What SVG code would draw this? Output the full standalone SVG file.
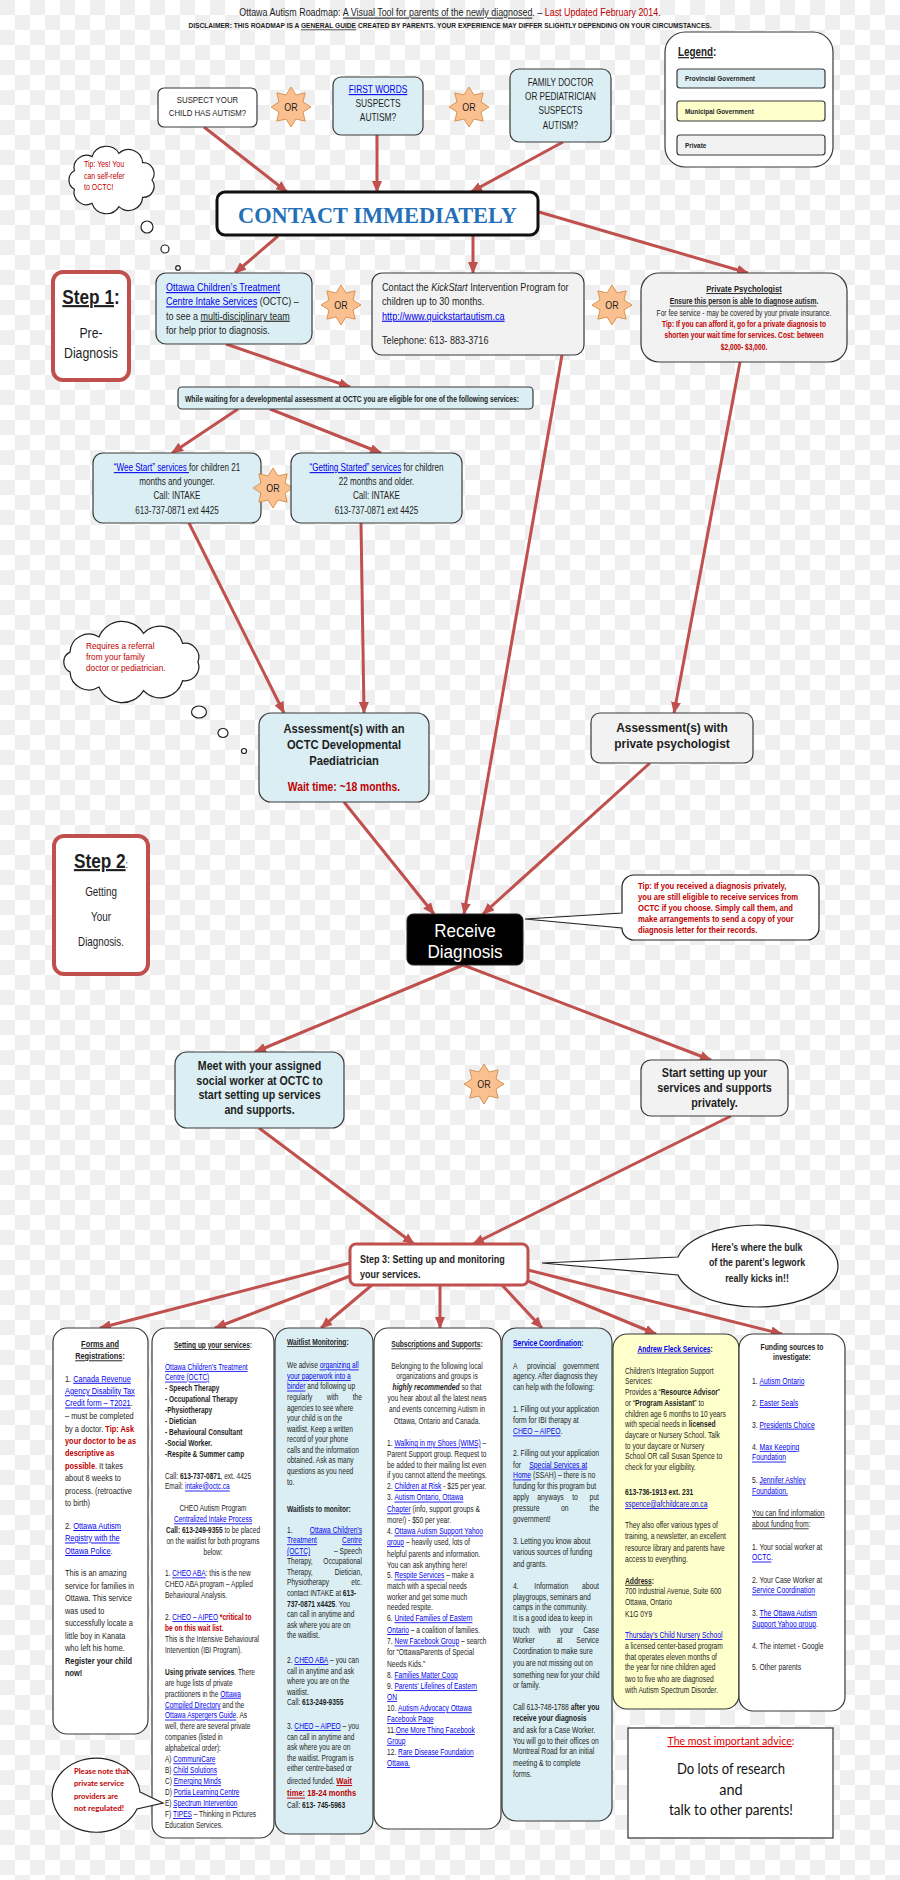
<svg xmlns="http://www.w3.org/2000/svg" width="900" height="1880" viewBox="0 0 900 1880">
<defs>
<pattern id="chk" width="30" height="30" patternUnits="userSpaceOnUse"><rect width="30" height="30" fill="#ffffff"/><rect width="15" height="15" fill="#efefef"/><rect x="15" y="15" width="15" height="15" fill="#efefef"/></pattern>
<marker id="ah" markerUnits="userSpaceOnUse" markerWidth="12" markerHeight="10" refX="11" refY="5" orient="auto"><path d="M0,0 L12,5 L0,10 z" fill="#c0504d"/></marker>
<polygon id="star" points="20,0 12.01,4.97 14.14,14.14 4.97,12.01 0,20 -4.97,12.01 -14.14,14.14 -12.01,4.97 -20,0 -12.01,-4.97 -14.14,-14.14 -4.97,-12.01 0,-20 4.97,-12.01 14.14,-14.14 12.01,-4.97"/>
</defs>
<style>
.t{font-family:"Liberation Sans",Arial,sans-serif;fill:#1e1e1e}
.b{font-weight:bold}
.it{font-style:italic}
.u{text-decoration:underline}
.lk{fill:#0000ee;text-decoration:underline}
.r{fill:#c00000}
.m{text-anchor:middle}
.e{text-anchor:end}
.bx{stroke:#3a3a3a;stroke-width:1.2}
.blue{fill:#daeef3}
.grey{fill:#f2f2f2}
.wh{fill:#ffffff}
.yel{fill:#ffffcc}
.step{fill:#ffffff;stroke:#c0504d;stroke-width:4}
.star{fill:#fac090;stroke:#d9954f;stroke-width:1}
.conn{fill:none;stroke:#c0504d;stroke-width:3;marker-end:url(#ah)}
.cl{fill:#ffffff;stroke:#222;stroke-width:1.2}
</style>
<rect width="900" height="1880" fill="url(#chk)"/>

<g id="title" class="t">
<g transform="translate(450 0) scale(0.85 1)"><text x="0" y="16.5" text-anchor="middle" font-size="10.5">Ottawa Autism Roadmap: <tspan class="u">A Visual Tool for parents of the newly diagnosed</tspan>. – <tspan class="r">Last Updated February 2014</tspan>.</text></g>
<g transform="translate(450 0) scale(0.874 1)"><text x="0" y="28.4" text-anchor="middle" font-size="7.6" font-weight="bold">DISCLAIMER: THIS ROADMAP IS A <tspan class="u">GENERAL GUIDE</tspan> CREATED BY PARENTS. YOUR EXPERIENCE MAY DIFFER SLIGHTLY DEPENDING ON YOUR CIRCUMSTANCES.</text></g>
</g>

<g id="legend">
<rect x="665" y="32" width="168" height="135" rx="20" class="bx wh"/>
<g class="t b" transform="translate(678 0) scale(0.82 1)"><text x="0" y="56" font-size="12"><tspan class="u">Legend</tspan>:</text></g>
<rect x="677" y="69" width="148" height="19" rx="3" class="bx blue"/>
<rect x="677" y="101" width="148" height="20" rx="3" class="bx yel"/>
<rect x="677" y="135" width="148" height="20" rx="3" class="bx grey"/>
<g class="t b" font-size="8" transform="translate(685 0) scale(0.8 1)">
<text x="0" y="81.5">Provincial Government</text>
<text x="0" y="114">Municipal Government</text>
<text x="0" y="148">Private</text>
</g>
</g>

<g id="connectors">
<line x1="204" y1="127" x2="287" y2="192" class="conn"/>
<line x1="377" y1="135" x2="377" y2="192" class="conn"/>
<line x1="563" y1="142" x2="471" y2="192" class="conn"/>
<line x1="278" y1="236" x2="235" y2="273" class="conn"/>
<line x1="473" y1="236" x2="473" y2="273" class="conn"/>
<line x1="539" y1="212" x2="748" y2="273" class="conn"/>
<line x1="226" y1="344" x2="350" y2="387" class="conn"/>
<line x1="238" y1="409" x2="172" y2="453" class="conn"/>
<line x1="270" y1="409" x2="381" y2="453" class="conn"/>
<line x1="189" y1="523" x2="284" y2="713" class="conn"/>
<line x1="361" y1="523" x2="364" y2="713" class="conn"/>
<line x1="562" y1="355" x2="464" y2="914" class="conn"/>
<line x1="740" y1="362" x2="674" y2="713" class="conn"/>
<line x1="344" y1="802" x2="434" y2="914" class="conn"/>
<line x1="650" y1="763" x2="483" y2="914" class="conn"/>
<line x1="463" y1="965" x2="255" y2="1052" class="conn"/>
<line x1="463" y1="965" x2="711" y2="1060" class="conn"/>
<line x1="259" y1="1128" x2="414" y2="1244" class="conn"/>
<line x1="731" y1="1116" x2="473" y2="1244" class="conn"/>
<line x1="350" y1="1263" x2="100" y2="1328" class="conn"/>
<line x1="350" y1="1276" x2="215" y2="1328" class="conn"/>
<line x1="372" y1="1285" x2="321" y2="1328" class="conn"/>
<line x1="440" y1="1285" x2="440" y2="1328" class="conn"/>
<line x1="502" y1="1285" x2="542" y2="1328" class="conn"/>
<line x1="528" y1="1281" x2="656" y2="1334" class="conn"/>
<line x1="528" y1="1270" x2="782" y2="1334" class="conn"/>
</g>

<g id="n-suspect">
<rect x="158" y="88" width="99" height="39" rx="6" class="bx wh"/>
<g class="t" font-size="9.8" text-anchor="middle" transform="translate(207.5 0) scale(0.8 1)">
<text x="0" y="103.5">SUSPECT YOUR</text>
<text x="0" y="116.5">CHILD HAS AUTISM?</text>
</g>
</g>
<g id="or1" transform="translate(291 107)"><use href="#star" class="star"/><text x="0" y="3.6" font-size="10.5" class="t m" transform="scale(0.85 1)">OR</text></g>
<g id="n-firstwords">
<rect x="333" y="77" width="90" height="58" rx="8" class="bx blue"/>
<g class="t" font-size="10.5" text-anchor="middle" transform="translate(378 0) scale(0.8 1)">
<text x="0" y="93" class="lk">FIRST WORDS</text>
<text x="0" y="107.5">SUSPECTS</text>
<text x="0" y="121.5">AUTISM?</text>
</g>
</g>
<g id="or2" transform="translate(469 107)"><use href="#star" class="star"/><text x="0" y="3.6" font-size="10.5" class="t m" transform="scale(0.85 1)">OR</text></g>
<g id="n-familydoctor">
<rect x="510" y="69" width="101" height="73" rx="9" class="bx blue"/>
<g class="t" font-size="10.2" text-anchor="middle" transform="translate(560.5 0) scale(0.8 1)">
<text x="0" y="86.5">FAMILY DOCTOR</text>
<text x="0" y="100.5">OR PEDIATRICIAN</text>
<text x="0" y="114.5">SUSPECTS</text>
<text x="0" y="129">AUTISM?</text>
</g>
</g>

<g id="tip-selfrefer">
<path d="M152,180 A11,11 0 0 1 142.6,197.4 A14,14 0 0 1 119,206.6 A15,15 0 0 1 92,203.4 A12.5,12.5 0 0 1 74.4,189.2 A10.5,10.5 0 0 1 74.4,170.8 A12.5,12.5 0 0 1 92,156.6 A15,15 0 0 1 119,153.4 A14,14 0 0 1 142.6,162.6 A11,11 0 0 1 152,180 Z" class="cl"/>
<circle cx="147" cy="227" r="6" class="cl"/>
<circle cx="165" cy="249" r="4" class="cl"/>
<circle cx="178" cy="268" r="2.3" class="cl"/>
<g class="t r" font-size="8.5" transform="translate(84 0) scale(0.82 1)">
<text x="0" y="167">Tip: Yes! You</text>
<text x="0" y="178.7">can self-refer</text>
<text x="0" y="190.3">to OCTC!</text>
</g>
</g>

<g id="n-contact">
<rect x="217" y="192" width="321" height="43" rx="8" fill="#ffffff" stroke="#111" stroke-width="3"/>
<text x="377.5" y="223" text-anchor="middle" font-family="'Liberation Serif',serif" font-weight="bold" font-size="23" fill="#2470b8" textLength="279" lengthAdjust="spacingAndGlyphs">CONTACT IMMEDIATELY</text>
</g>

<g id="step1">
<rect x="53" y="272" width="76" height="108" rx="10" class="step"/>
<g class="t" text-anchor="middle" transform="translate(91 0) scale(0.82 1)">
<text x="0" y="304" font-size="21" class="b"><tspan class="u">Step 1</tspan>:</text>
<text x="0" y="338" font-size="15">Pre-</text>
<text x="0" y="358" font-size="15">Diagnosis</text>
</g>
</g>

<g id="n-octc-intake">
<rect x="156" y="273" width="156" height="71" rx="10" class="bx blue"/>
<g class="t" font-size="11" transform="translate(166 0) scale(0.82 1)">
<text x="0" y="291" class="lk">Ottawa Children’s Treatment</text>
<text x="0" y="305.3"><tspan class="lk">Centre  Intake Services</tspan> (OCTC) –</text>
<text x="0" y="319.6">to see a <tspan class="u">multi-disciplinary team</tspan></text>
<text x="0" y="333.9">for help prior to diagnosis.</text>
</g>
</g>
<g id="or3" transform="translate(341 305)"><use href="#star" class="star"/><text x="0" y="3.6" font-size="10.5" class="t m" transform="scale(0.85 1)">OR</text></g>
<g id="n-kickstart">
<rect x="372" y="273" width="212" height="82" rx="10" class="bx grey"/>
<g class="t" font-size="11" transform="translate(382 0) scale(0.83 1)">
<text x="0" y="291">Contact the <tspan class="it">KickStart</tspan> Intervention Program for</text>
<text x="0" y="305.3">children up to 30 months.</text>
<text x="0" y="319.6" class="lk">http://www.quickstartautism.ca</text>
<text x="0" y="344.5">Telephone: 613- 883-3716</text>
</g>
</g>
<g id="or4" transform="translate(612 305)"><use href="#star" class="star"/><text x="0" y="3.6" font-size="10.5" class="t m" transform="scale(0.85 1)">OR</text></g>
<g id="n-private-psych">
<rect x="641" y="273" width="206" height="89" rx="18" class="bx grey"/>
<g class="t" text-anchor="middle" transform="translate(744 0) scale(0.81 1)">
<text x="0" y="292" font-size="9.5" class="b u">Private Psychologist</text>
<text x="0" y="304.5" font-size="8.3" class="b"><tspan class="u">Ensure this person is able to diagnose autism</tspan>.</text>
<text x="0" y="315.8" font-size="8.2">For fee service - may be covered by your private insurance.</text>
<text x="0" y="326.8" font-size="8.2" class="b r">Tip: If you can afford it, go for a private diagnosis to</text>
<text x="0" y="338.3" font-size="8.2" class="b r">shorten your wait time for services. Cost: between</text>
<text x="0" y="349.6" font-size="8.2" class="b r">$2,000- $3,000.</text>
</g>
</g>

<g id="n-while-waiting">
<rect x="178" y="387" width="355" height="22" rx="4" class="bx blue"/>
<text x="185" y="401.5" font-size="9" class="t b" textLength="334" lengthAdjust="spacingAndGlyphs">While waiting for a developmental assessment at OCTC you are eligible for one of the following services:</text>
</g>

<g id="n-weestart">
<rect x="93" y="453" width="168" height="70" rx="10" class="bx blue"/>
<g class="t" font-size="10.5" text-anchor="middle" transform="translate(177 0) scale(0.77 1)">
<text x="0" y="471"><tspan class="lk">“Wee Start” services </tspan> for children 21</text>
<text x="0" y="485.2">months and younger.</text>
<text x="0" y="499.4">Call: INTAKE</text>
<text x="0" y="513.6">613-737-0871 ext 4425</text>
</g>
</g>
<g id="or5" transform="translate(273 488)"><use href="#star" class="star"/><text x="0" y="3.6" font-size="10.5" class="t m" transform="scale(0.85 1)">OR</text></g>
<g id="n-gettingstarted">
<rect x="291" y="453" width="171" height="70" rx="10" class="bx blue"/>
<g class="t" font-size="10.5" text-anchor="middle" transform="translate(376.5 0) scale(0.77 1)">
<text x="0" y="471"><tspan class="lk">“Getting Started” services</tspan> for children</text>
<text x="0" y="485.2">22 months and older.</text>
<text x="0" y="499.4">Call: INTAKE</text>
<text x="0" y="513.6">613-737-0871 ext 4425</text>
</g>
</g>

<g id="tip-referral">
<path d="M198,662 A14,14 0 0 1 182.6,680.6 A23,23 0 0 1 143.5,690.6 A25,25 0 0 1 99,687.1 A19,19 0 0 1 70,671.9 A11,11 0 0 1 70,652.1 A19,19 0 0 1 99,636.9 A25,25 0 0 1 143.5,633.4 A23,23 0 0 1 182.6,643.4 A14,14 0 0 1 198,662 Z" class="cl"/>
<ellipse cx="199" cy="712" rx="7.5" ry="6" class="cl"/>
<ellipse cx="223" cy="733" rx="5" ry="4.5" class="cl"/>
<circle cx="244" cy="751" r="2.5" class="cl"/>
<g class="t r" font-size="9.2" transform="translate(86 0) scale(0.9 1)">
<text x="0" y="649.5">Requires a referral</text>
<text x="0" y="660.3">from your family</text>
<text x="0" y="671.1">doctor or pediatrician.</text>
</g>
</g>

<g id="n-assess-octc">
<rect x="259" y="713" width="170" height="89" rx="12" class="bx blue"/>
<g class="t b" text-anchor="middle" transform="translate(344 0) scale(0.86 1)">
<text x="0" y="733.5" font-size="13">Assessment(s) with an</text>
<text x="0" y="749.5" font-size="13">OCTC Developmental</text>
<text x="0" y="765.5" font-size="13">Paediatrician</text>
<text x="0" y="791.5" font-size="12" class="r">Wait time: ~18 months.</text>
</g>
</g>
<g id="n-assess-private">
<rect x="591" y="713" width="162" height="50" rx="9" class="bx grey"/>
<g class="t b" font-size="13.5" text-anchor="middle" transform="translate(672 0) scale(0.88 1)">
<text x="0" y="732">Assessment(s) with</text>
<text x="0" y="748">private psychologist</text>
</g>
</g>

<g id="step2">
<rect x="54" y="836" width="94" height="138" rx="10" class="step"/>
<g class="t" text-anchor="middle" transform="translate(101 0) scale(0.82 1)">
<text x="0" y="868" font-size="21" class="b"><tspan class="u">Step 2</tspan><tspan font-size="11" font-weight="normal">:</tspan></text>
<text x="0" y="896" font-size="12">Getting</text>
<text x="0" y="921" font-size="12">Your</text>
<text x="0" y="946" font-size="12">Diagnosis.</text>
</g>
</g>

<g id="n-receive">
<rect x="407" y="914" width="116" height="51" rx="6" fill="#000000" stroke="#222" stroke-width="1"/>
<g font-family="'Liberation Sans',Arial,sans-serif" font-size="19" fill="#ffffff" text-anchor="middle" transform="translate(465 0) scale(0.9 1)">
<text x="0" y="937">Receive</text>
<text x="0" y="958.5">Diagnosis</text>
</g>
</g>

<g id="tip-private-dx">
<path d="M634,875 H807 A12,12 0 0 1 819,887 V928 A12,12 0 0 1 807,940 H634 A12,12 0 0 1 622,928 L525,919 L622,913 V887 A12,12 0 0 1 634,875 Z" class="cl"/>
<g class="t r b" font-size="9.2" transform="translate(638 0) scale(0.83 1)">
<text x="0" y="889.5">Tip: If you received a diagnosis privately,</text>
<text x="0" y="900.3">you are still eligible to receive services from</text>
<text x="0" y="911.1">OCTC if you choose. Simply call them, and</text>
<text x="0" y="921.9">make arrangements to send a copy of your</text>
<text x="0" y="932.7">diagnosis letter for their records.</text>
</g>
</g>

<g id="n-meet">
<rect x="175" y="1052" width="169" height="76" rx="12" class="bx blue"/>
<g class="t b" font-size="12.5" text-anchor="middle" transform="translate(259.5 0) scale(0.85 1)">
<text x="0" y="1070">Meet with your assigned</text>
<text x="0" y="1084.7">social worker at OCTC to</text>
<text x="0" y="1099.4">start setting up services</text>
<text x="0" y="1114.5">and supports.</text>
</g>
</g>
<g id="or6" transform="translate(484 1084)"><use href="#star" class="star"/><text x="0" y="3.6" font-size="10.5" class="t m" transform="scale(0.85 1)">OR</text></g>
<g id="n-start-private">
<rect x="641" y="1060" width="147" height="56" rx="10" class="bx grey"/>
<g class="t b" font-size="12.5" text-anchor="middle" transform="translate(714.5 0) scale(0.865 1)">
<text x="0" y="1077.5">Start setting up your</text>
<text x="0" y="1092.5">services and supports</text>
<text x="0" y="1107.5">privately.</text>
</g>
</g>

<g id="step3">
<rect x="350" y="1244" width="178" height="41" rx="6" fill="#ffffff" stroke="#c0504d" stroke-width="3"/>
<g class="t b" font-size="11" transform="translate(360 0) scale(0.82 1)">
<text x="0" y="1263">Step 3: Setting up and monitoring</text>
<text x="0" y="1278">your services.</text>
</g>
</g>

<g id="tip-legwork">
<path d="M678,1257 L542,1263 L678,1275 A81,41 0 1 0 678,1257 Z" class="cl"/>
<g class="t b" font-size="10.5" text-anchor="middle" transform="translate(757 0) scale(0.84 1)">
<text x="0" y="1251">Here’s where the bulk</text>
<text x="0" y="1266.5">of the parent’s legwork</text>
<text x="0" y="1282">really kicks in!!</text>
</g>
</g>

<g id="col-forms">
<rect x="53" y="1328" width="95" height="406" rx="14" class="bx wh"/>
<g class="t" font-size="9.5" transform="translate(65 0) scale(0.78 1)">
<text x="44.9" y="1346.7" class="m b"><tspan class="u">Forms and</tspan></text>
<text x="44.9" y="1359.2" class="m b"><tspan class="u">Registrations</tspan>:</text>
<text x="0" y="1381.7">1. <tspan class="lk">Canada Revenue</tspan></text>
<text x="0" y="1394.2" class="lk">Agency Disability Tax</text>
<text x="0" y="1406.4"><tspan class="lk">Credit form – T2021</tspan>.</text>
<text x="0" y="1419.2">– must be completed</text>
<text x="0" y="1431.7">by a doctor. <tspan class="r b">Tip: Ask</tspan></text>
<text x="0" y="1444.2" class="r b">your doctor to be as</text>
<text x="0" y="1456.4" class="r b">descriptive as</text>
<text x="0" y="1469.2"><tspan class="r b">possible</tspan>. It takes</text>
<text x="0" y="1481.4">about 8 weeks to</text>
<text x="0" y="1493.9">process. (retroactive</text>
<text x="0" y="1506.4">to birth)</text>
<text x="0" y="1528.9">2. <tspan class="lk">Ottawa Autism</tspan></text>
<text x="0" y="1541.4" class="lk">Registry with the</text>
<text x="0" y="1553.9"><tspan class="lk">Ottawa Police</tspan>.</text>
<text x="0" y="1576.4">This is an amazing</text>
<text x="0" y="1588.9">service for families in</text>
<text x="0" y="1601.4">Ottawa. This service</text>
<text x="0" y="1613.9">was used to</text>
<text x="0" y="1626.4">successfully locate a</text>
<text x="0" y="1638.9">little boy in Kanata</text>
<text x="0" y="1651.4">who left his home.</text>
<text x="0" y="1663.9" class="b">Register your child</text>
<text x="0" y="1676.4" class="b">now!</text>
</g>
</g>

<g id="col-setting-up">
<rect x="152" y="1328" width="122" height="510" rx="14" class="bx wh"/>
<g class="t" font-size="8.5" transform="translate(165 1348) scale(0.77 0.988) translate(0 -1348)">
<text x="62.3" y="1348" class="m b"><tspan class="u">Setting up your services</tspan>:</text>
<text x="0" y="1370.1" class="lk">Ottawa Children’s Treatment</text>
<text x="0" y="1380.9" class="lk">Centre (OCTC)</text>
<text x="0" y="1391.9" class="b">- Speech Therapy</text>
<text x="0" y="1403" class="b">- Occupational Therapy</text>
<text x="0" y="1414" class="b">-Physiotherapy</text>
<text x="0" y="1425.1" class="b">- Dietician</text>
<text x="0" y="1436.2" class="b">- Behavioural Consultant</text>
<text x="0" y="1447.3" class="b">-Social Worker.</text>
<text x="0" y="1458.4" class="b">-Respite &amp; Summer camp</text>
<text x="0" y="1480.1">Call: <tspan class="b">613-737-0871</tspan>, ext. 4425</text>
<text x="0" y="1491.2">Email: <tspan class="lk">intake@octc.ca</tspan></text>
<text x="62.3" y="1513.4" class="m">CHEO Autism Program</text>
<text x="62.3" y="1524.4" class="m lk">Centralized Intake Process</text>
<text x="62.3" y="1535.5" class="m"><tspan class="b">Call: 613-249-9355</tspan> to be placed</text>
<text x="62.3" y="1546.6" class="m">on the waitlist for both programs</text>
<text x="62.3" y="1557.6" class="m">below:</text>
<text x="0" y="1579.1">1. <tspan class="lk">CHEO ABA</tspan>: this is the new</text>
<text x="0" y="1590.1">CHEO ABA program – Applied</text>
<text x="0" y="1601.2">Behavioural Analysis.</text>
<text x="0" y="1623.4">2. <tspan class="lk">CHEO – AIPEO</tspan> <tspan class="r b">*critical to</tspan></text>
<text x="0" y="1634.4" class="r b">be on this wait list.</text>
<text x="0" y="1645.5">This is the Intensive Behavioural</text>
<text x="0" y="1656.6">Intervention (IBI Program).</text>
<text x="0" y="1678.7"><tspan class="b">Using private services</tspan>. There</text>
<text x="0" y="1689.8">are huge lists of private</text>
<text x="0" y="1700.9">practitioners in the <tspan class="lk">Ottawa</tspan></text>
<text x="0" y="1711.9"><tspan class="lk">Compiled Directory</tspan> and the</text>
<text x="0" y="1723"><tspan class="lk">Ottawa Aspergers Guide</tspan>. As</text>
<text x="0" y="1734.1">well, there are several private</text>
<text x="0" y="1745.1">companies (listed in</text>
<text x="0" y="1756.2">alphabetical order):</text>
<text x="0" y="1767.3">A) <tspan class="lk">CommuniCare</tspan></text>
<text x="0" y="1778.4">B) <tspan class="lk">Child Solutions</tspan></text>
<text x="0" y="1789.4">C) <tspan class="lk">Emerging Minds</tspan></text>
<text x="0" y="1800.5">D) <tspan class="lk">Portia Learning Centre</tspan></text>
<text x="0" y="1811.6">E) <tspan class="lk">Spectrum Intervention</tspan></text>
<text x="0" y="1822.7">F) <tspan class="lk">TIPES</tspan> – Thinking in Pictures</text>
<text x="0" y="1833.7">Education Services.</text>
</g>
</g>

<g id="col-waitlist">
<rect x="275" y="1328" width="98" height="506" rx="14" class="bx blue"/>
<g class="t" font-size="8.3" transform="translate(287 0) scale(0.8 1)">
<text x="0" y="1345.1" class="b"><tspan class="u">Waitlist Monitoring</tspan>:</text>
<text x="0" y="1368.4">We advise <tspan class="lk">organizing all</tspan></text>
<text x="0" y="1379" class="lk">your paperwork into a</text>
<text x="0" y="1389.5"><tspan class="lk">binder</tspan> and following up</text>
<text x="0" y="1400.1">regularly</text><text x="49.6" y="1400.1">with</text><text x="93.75" y="1400.1" class="e">the</text>
<text x="0" y="1410.6">agencies to see where</text>
<text x="0" y="1421.2">your child is on the</text>
<text x="0" y="1431.8">waitlist. Keep a written</text>
<text x="0" y="1442.3">record of your phone</text>
<text x="0" y="1452.9">calls and the information</text>
<text x="0" y="1463.5">obtained. Ask as many</text>
<text x="0" y="1474">questions as you need</text>
<text x="0" y="1484.6">to.</text>
<text x="0" y="1511.6" class="b">Waitlists to monitor:</text>
<text x="0" y="1532.6">1.</text><text x="93.75" y="1532.6" class="e lk">Ottawa Children’s</text>
<text x="0" y="1543.2" class="lk">Treatment</text><text x="93.75" y="1543.2" class="e lk">Centre</text>
<text x="0" y="1553.8" class="lk">(OCTC)</text><text x="93.75" y="1553.8" class="e">– Speech</text>
<text x="0" y="1564.3">Therapy,</text><text x="93.75" y="1564.3" class="e">Occupational</text>
<text x="0" y="1574.9">Therapy,</text><text x="93.75" y="1574.9" class="e">Dietician,</text>
<text x="0" y="1585.5">Physiotherapy</text><text x="93.75" y="1585.5" class="e">etc.</text>
<text x="0" y="1596">contact INTAKE at <tspan class="b">613-</tspan></text>
<text x="0" y="1606.6"><tspan class="b">737-0871  x4425</tspan>. You</text>
<text x="0" y="1617.2">can call in anytime and</text>
<text x="0" y="1627.7">ask where you are on</text>
<text x="0" y="1638.3">the waitlist.</text>
<text x="0" y="1663">2. <tspan class="lk">CHEO ABA</tspan> – you can</text>
<text x="0" y="1673.6">call in anytime and ask</text>
<text x="0" y="1684.2">where you are on the</text>
<text x="0" y="1694.8">waitlist.</text>
<text x="0" y="1705.4">Call: <tspan class="b">613-249-9355</tspan></text>
<text x="0" y="1729">3. <tspan class="lk">CHEO – AIPEO</tspan> – you</text>
<text x="0" y="1739.6">can call in anytime and</text>
<text x="0" y="1750.2">ask where you are on</text>
<text x="0" y="1760.8">the waitlist. Program is</text>
<text x="0" y="1771.4">either centre-based or</text>
<text x="0" y="1784">directed funded. <tspan class="r b u" font-size="9.5">Wait</tspan></text>
<text x="0" y="1796.5" class="r b" font-size="9.5"><tspan class="u">time:</tspan> 18-24 months</text>
<text x="0" y="1808">Call: <tspan class="b">613- 745-5963</tspan></text>
</g>
</g>

<g id="col-subscriptions">
<rect x="374" y="1328" width="127" height="501" rx="14" class="bx wh"/>
<g class="t" font-size="8.5" transform="translate(387 0) scale(0.785 1)">
<text x="63.7" y="1347.3" class="m b"><tspan class="u">Subscriptions and Supports</tspan>:</text>
<text x="63.7" y="1368.7" class="m">Belonging to the following local</text>
<text x="63.7" y="1379.4" class="m">organizations and groups is</text>
<text x="63.7" y="1390.1" class="m"><tspan class="b it">highly recommended</tspan> so that</text>
<text x="63.7" y="1400.9" class="m">you hear about all the latest news</text>
<text x="63.7" y="1411.6" class="m">and events concerning Autism in</text>
<text x="63.7" y="1423.7" class="m">Ottawa, Ontario and Canada.</text>
<text x="0" y="1446.2">1. <tspan class="lk">Walking in my Shoes (WIMS)</tspan> –</text>
<text x="0" y="1456.9">Parent Support group. Request to</text>
<text x="0" y="1467.6">be added to their mailing list even</text>
<text x="0" y="1478.4">if you cannot attend the meetings.</text>
<text x="0" y="1489.1">2. <tspan class="lk">Children at Risk</tspan> - $25 per year.</text>
<text x="0" y="1500.5">3. <tspan class="lk">Autism Ontario, Ottawa</tspan></text>
<text x="0" y="1512.3"><tspan class="lk">Chapter</tspan> (info, support groups &amp;</text>
<text x="0" y="1523">more!) - $50 per year.</text>
<text x="0" y="1534.4">4. <tspan class="lk">Ottawa Autism Support Yahoo</tspan></text>
<text x="0" y="1545.1"><tspan class="lk">group</tspan> – heavily used, lots of</text>
<text x="0" y="1556.9">helpful parents and information.</text>
<text x="0" y="1567.6">You can ask anything here!</text>
<text x="0" y="1578.4">5. <tspan class="lk">Respite Services</tspan> – make a</text>
<text x="0" y="1589.1">match with a special needs</text>
<text x="0" y="1599.8">worker and get some much</text>
<text x="0" y="1610.5">needed respite.</text>
<text x="0" y="1621.2">6. <tspan class="lk">United Families of Eastern</tspan></text>
<text x="0" y="1633"><tspan class="lk">Ontario</tspan> – a coalition of families.</text>
<text x="0" y="1644.4">7. <tspan class="lk">New Facebook Group</tspan> – search</text>
<text x="0" y="1655.1">for “OttawaParents of Special</text>
<text x="0" y="1666.6">Needs Kids.”</text>
<text x="0" y="1677.6">8. <tspan class="lk">Families Matter Coop</tspan></text>
<text x="0" y="1689.1">9. <tspan class="lk">Parents’ Lifelines of Eastern</tspan></text>
<text x="0" y="1699.8" class="lk">ON</text>
<text x="0" y="1711.2">10. <tspan class="lk">Autism Advocacy Ottawa</tspan></text>
<text x="0" y="1721.9" class="lk">Facebook Page</text>
<text x="0" y="1733">11.<tspan class="lk">One More Thing Facebook</tspan></text>
<text x="0" y="1743.7" class="lk">Group</text>
<text x="0" y="1755.1">12. <tspan class="lk">Rare Disease Foundation</tspan></text>
<text x="0" y="1765.9" class="lk">Ottawa.</text>
</g>
</g>

<g id="col-service-coordination">
<rect x="502" y="1328" width="110" height="493" rx="14" class="bx blue"/>
<g class="t" font-size="8.5" transform="translate(513 0) scale(0.8 1)">
<text x="0" y="1346.2" class="b"><tspan class="lk">Service Coordination</tspan>:</text>
<text x="0" y="1369.4">A</text><text x="17.5" y="1369.4">provincial</text><text x="107.5" y="1369.4" class="e">government</text>
<text x="0" y="1379.4">agency. After diagnosis they</text>
<text x="0" y="1390.1">can help with the following:</text>
<text x="0" y="1412.3">1. Filling out your application</text>
<text x="0" y="1423">form for IBI therapy at</text>
<text x="0" y="1434.4"><tspan class="lk">CHEO – AIPEO</tspan>.</text>
<text x="0" y="1455.9">2. Filling out your application</text>
<text x="0" y="1467.6">for</text><text x="20.4" y="1467.6" class="lk">Special Services at</text>
<text x="0" y="1478.4"><tspan class="lk">Home</tspan> (SSAH) – there is no</text>
<text x="0" y="1489.1">funding for this program but</text>
<text x="0" y="1499.8">apply</text><text x="30.4" y="1499.8">anyways</text><text x="74" y="1499.8">to</text><text x="107.5" y="1499.8" class="e">put</text>
<text x="0" y="1511.2">pressure</text><text x="60" y="1511.2">on</text><text x="107.5" y="1511.2" class="e">the</text>
<text x="0" y="1521.9">government!</text>
<text x="0" y="1544.4">3. Letting you know about</text>
<text x="0" y="1555.1">various sources of funding</text>
<text x="0" y="1566.9">and grants.</text>
<text x="0" y="1589.1">4.</text><text x="26.6" y="1589.1">Information</text><text x="107.5" y="1589.1" class="e">about</text>
<text x="0" y="1599.8">playgroups, seminars and</text>
<text x="0" y="1610.5">camps in the community.</text>
<text x="0" y="1621.2">It is a good idea to keep in</text>
<text x="0" y="1632.6">touch</text><text x="31.7" y="1632.6">with</text><text x="58.75" y="1632.6">your</text><text x="107.5" y="1632.6" class="e">Case</text>
<text x="0" y="1643.4">Worker</text><text x="54.6" y="1643.4">at</text><text x="107.5" y="1643.4" class="e">Service</text>
<text x="0" y="1654.4">Coordination to make sure</text>
<text x="0" y="1665.9">you are not missing out on</text>
<text x="0" y="1677.6">something new for your child</text>
<text x="0" y="1688.4">or family.</text>
<text x="0" y="1710.5">Call 613-748-1788 <tspan class="b">after you</tspan></text>
<text x="0" y="1721.2" class="b">receive your diagnosis</text>
<text x="0" y="1732.6">and ask for a Case Worker.</text>
<text x="0" y="1743.7">You will go to their offices on</text>
<text x="0" y="1754.4">Montreal Road for an initial</text>
<text x="0" y="1765.9">meeting &amp; to complete</text>
<text x="0" y="1776.6">forms.</text>
</g>
</g>

<g id="col-andrew-fleck">
<rect x="613" y="1334" width="126" height="375" rx="14" class="bx yel"/>
<g class="t" font-size="8.5" transform="translate(625 0) scale(0.79 1)">
<text x="63.3" y="1351.6" class="m b"><tspan class="lk">Andrew Fleck Services</tspan>:</text>
<text x="0" y="1374.1">Children’s Integration Support</text>
<text x="0" y="1384.4">Services:</text>
<text x="0" y="1395.1">Provides a “<tspan class="b">Resource Advisor</tspan>”</text>
<text x="0" y="1405.9">or “<tspan class="b">Program Assistant</tspan>” to</text>
<text x="0" y="1416.6">children age 6 months to 10 years</text>
<text x="0" y="1427.3">with special needs in <tspan class="b">licensed</tspan></text>
<text x="0" y="1438">daycare or Nursery School. Talk</text>
<text x="0" y="1448.7">to your daycare or Nursery</text>
<text x="0" y="1459.4">School OR call Susan Spence to</text>
<text x="0" y="1470.1">check for your eligibility.</text>
<text x="0" y="1495.1" class="b">613-736-1913 ext. 231</text>
<text x="0" y="1506.9" class="lk">sspence@afchildcare.on.ca</text>
<text x="0" y="1528.4">They also offer various types of</text>
<text x="0" y="1539.1">training, a newsletter, an excellent</text>
<text x="0" y="1550.9">resource library and parents have</text>
<text x="0" y="1561.6">access to everything.</text>
<text x="0" y="1583.7" class="b"><tspan class="u">Address</tspan>:</text>
<text x="0" y="1594.4">700 Industrial Avenue, Suite 600</text>
<text x="0" y="1605.1">Ottawa, Ontario</text>
<text x="0" y="1616.6">K1G 0Y9</text>
<text x="0" y="1638" class="lk">Thursday’s Child Nursery School</text>
<text x="0" y="1649.1">a licensed center-based program</text>
<text x="0" y="1659.8">that operates eleven months of</text>
<text x="0" y="1670.5">the year for nine children aged</text>
<text x="0" y="1682">two to five who are diagnosed</text>
<text x="0" y="1693.4">with Autism Spectrum Disorder.</text>
</g>
</g>

<g id="col-funding">
<rect x="739" y="1334" width="106" height="377" rx="14" class="bx wh"/>
<g class="t" font-size="8.5" transform="translate(752 0) scale(0.8 1)">
<text x="50" y="1349.8" class="m b">Funding sources to</text>
<text x="50" y="1360.5" class="m b">investigate:</text>
<text x="0" y="1383.7">1. <tspan class="lk">Autism Ontario</tspan></text>
<text x="0" y="1405.9">2. <tspan class="lk">Easter Seals</tspan></text>
<text x="0" y="1427.6">3. <tspan class="lk">Presidents Choice</tspan></text>
<text x="0" y="1449.8">4. <tspan class="lk">Max Keeping</tspan></text>
<text x="0" y="1460.5" class="lk">Foundation</text>
<text x="0" y="1482.6">5. <tspan class="lk">Jennifer Ashley</tspan></text>
<text x="0" y="1493.7" class="lk">Foundation.</text>
<text x="0" y="1515.9" class="u">You can find information</text>
<text x="0" y="1527.3"><tspan class="u">about funding from</tspan>:</text>
<text x="0" y="1549.8">1. Your social worker at</text>
<text x="0" y="1560.5"><tspan class="lk">OCTC</tspan>.</text>
<text x="0" y="1582.6">2. Your Case Worker at</text>
<text x="0" y="1593.4" class="lk">Service Coordination</text>
<text x="0" y="1615.9">3. <tspan class="lk">The Ottawa Autism</tspan></text>
<text x="0" y="1626.6"><tspan class="lk">Support Yahoo group</tspan>.</text>
<text x="0" y="1648.7">4. The internet - Google</text>
<text x="0" y="1670.1">5. Other parents</text>
</g>
</g>

<g id="note-private">
<path d="M140,1792 L163,1803 L137,1809 A44,37 0 1 1 140,1792 Z" class="cl"/>
<g font-family="Lato,'Liberation Sans',sans-serif" font-weight="bold" font-size="8.4" fill="#c00000">
<text x="74" y="1773.5" textLength="55" lengthAdjust="spacingAndGlyphs">Please note that</text>
<text x="74" y="1786" textLength="50" lengthAdjust="spacingAndGlyphs">private service</text>
<text x="74" y="1798.5" textLength="44" lengthAdjust="spacingAndGlyphs">providers are</text>
<text x="74" y="1811" textLength="50" lengthAdjust="spacingAndGlyphs">not regulated!</text>
</g>
</g>

<g id="advice">
<rect x="628" y="1728" width="205" height="110" fill="#ffffff" stroke="#333" stroke-width="1.2"/>
<g font-family="Lato,'Liberation Sans',sans-serif" text-anchor="middle">
<text x="731" y="1745" font-size="11.5" fill="#e00000" textLength="127" lengthAdjust="spacingAndGlyphs"><tspan text-decoration="underline">The most important advice</tspan>:</text>
<text x="731" y="1774" font-size="14.5" fill="#111" textLength="108" lengthAdjust="spacingAndGlyphs">Do lots of research</text>
<text x="731" y="1794.5" font-size="14.5" fill="#111">and</text>
<text x="731" y="1815" font-size="14.5" fill="#111" textLength="124" lengthAdjust="spacingAndGlyphs">talk to other parents!</text>
</g>
</g>
</svg>
